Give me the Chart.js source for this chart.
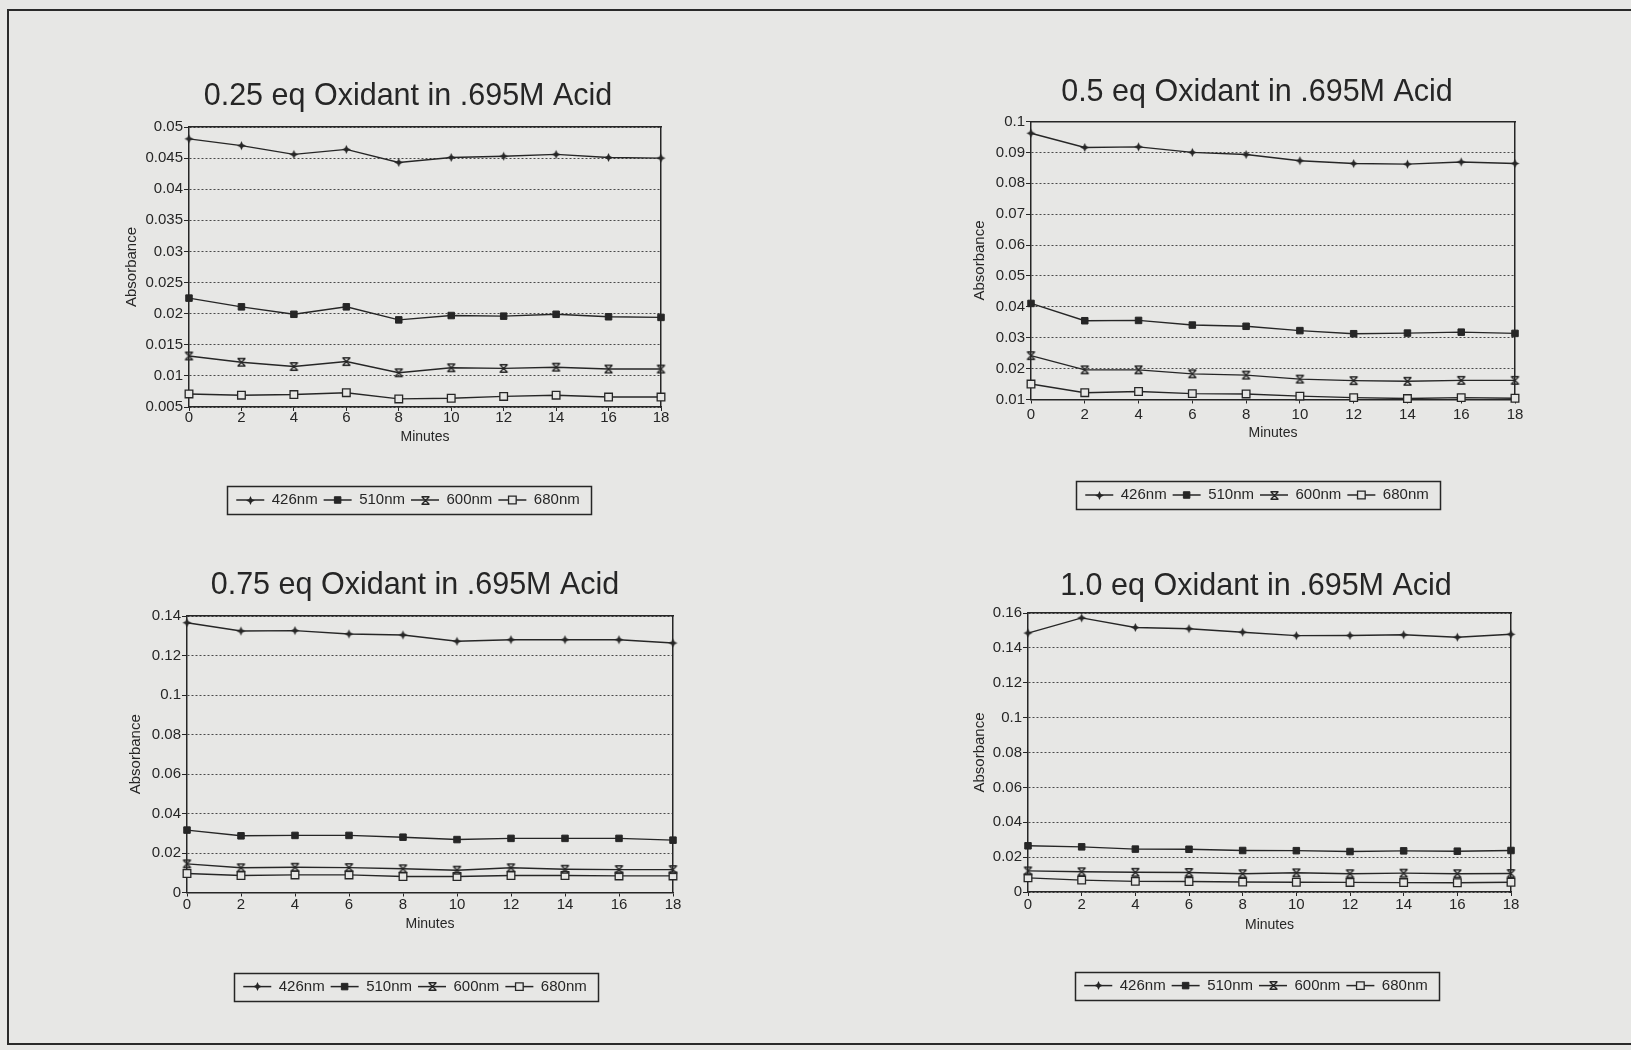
<!DOCTYPE html>
<html>
<head>
<meta charset="utf-8">
<script src="https://cdn.jsdelivr.net/npm/chart.js"></script>
<style>
html,body{margin:0;padding:0;width:1631px;height:1050px;overflow:hidden;background:#e7e7e5;}
#frame{position:absolute;left:7px;top:9px;width:1700px;height:1032px;border:2px solid #2a2a2a;border-right:none;}
canvas{position:absolute;}
</style>
</head>
<body>
<div id="frame"></div>
<canvas id="c1"></canvas>
<canvas id="c2"></canvas>
<canvas id="c3"></canvas>
<canvas id="c4"></canvas>
<script>
// ---------------- DATA ----------------
const minutes = [0, 2, 4, 6, 8, 10, 12, 14, 16, 18];
const seriesNames = ['426nm', '510nm', '600nm', '680nm'];
const chartTitles = [
  '0.25 eq Oxidant in .695M Acid',
  '0.5 eq Oxidant in .695M Acid',
  '0.75 eq Oxidant in .695M Acid',
  '1.0 eq Oxidant in .695M Acid'
];
const xTitle = 'Minutes';
const yTitle = 'Absorbance';

// 0.25 eq
const eq025_426 = [0.0481, 0.0470, 0.0456, 0.0464, 0.0443, 0.0451, 0.0453, 0.0456, 0.0451, 0.0450];
const eq025_510 = [0.0225, 0.0211, 0.0199, 0.0211, 0.0190, 0.0197, 0.0196, 0.0199, 0.0195, 0.0194];
const eq025_600 = [0.0132, 0.0122, 0.0115, 0.0123, 0.0105, 0.0113, 0.0112, 0.0114, 0.0111, 0.0111];
const eq025_680 = [0.0071, 0.0069, 0.0070, 0.0073, 0.0063, 0.0064, 0.0067, 0.0069, 0.0066, 0.0066];
// 0.5 eq
const eq05_426 = [0.0962, 0.0916, 0.0918, 0.0900, 0.0893, 0.0873, 0.0864, 0.0862, 0.0869, 0.0864];
const eq05_510 = [0.0411, 0.0355, 0.0356, 0.0341, 0.0337, 0.0323, 0.0313, 0.0315, 0.0318, 0.0314];
const eq05_600 = [0.0242, 0.0196, 0.0196, 0.0183, 0.0179, 0.0166, 0.0161, 0.0159, 0.0162, 0.0162];
const eq05_680 = [0.0150, 0.0122, 0.0126, 0.0119, 0.0118, 0.0111, 0.0106, 0.0103, 0.0106, 0.0104];
// 0.75 eq
const eq075_426 = [0.1366, 0.1324, 0.1326, 0.1309, 0.1304, 0.1272, 0.1280, 0.1280, 0.1280, 0.1263];
const eq075_510 = [0.0316, 0.0287, 0.0289, 0.0289, 0.0280, 0.0268, 0.0274, 0.0274, 0.0274, 0.0265];
const eq075_600 = [0.0145, 0.0125, 0.0128, 0.0126, 0.0120, 0.0113, 0.0125, 0.0118, 0.0116, 0.0116];
const eq075_680 = [0.0096, 0.0086, 0.0089, 0.0089, 0.0081, 0.0081, 0.0086, 0.0086, 0.0084, 0.0084];
// 1.0 eq
const eq10_426 = [0.1485, 0.1572, 0.1517, 0.1510, 0.1490, 0.1470, 0.1471, 0.1475, 0.1461, 0.1478];
const eq10_510 = [0.0265, 0.0259, 0.0246, 0.0245, 0.0238, 0.0237, 0.0232, 0.0236, 0.0234, 0.0238];
const eq10_600 = [0.0121, 0.0116, 0.0113, 0.0112, 0.0105, 0.0110, 0.0105, 0.0108, 0.0105, 0.0106];
const eq10_680 = [0.0081, 0.0068, 0.0061, 0.0060, 0.0057, 0.0056, 0.0055, 0.0054, 0.0053, 0.0056];

// tick values
const xTicks = [0, 2, 4, 6, 8, 10, 12, 14, 16, 18];
const yTicks025 = [0.005, 0.01, 0.015, 0.02, 0.025, 0.03, 0.035, 0.04, 0.045, 0.05];
const yTicks05 = [0.01, 0.02, 0.03, 0.04, 0.05, 0.06, 0.07, 0.08, 0.09, 0.1];
const yTicks075 = [0, 0.02, 0.04, 0.06, 0.08, 0.1, 0.12, 0.14];
const yTicks10 = [0, 0.02, 0.04, 0.06, 0.08, 0.1, 0.12, 0.14, 0.16];

// ---------------- STYLE ----------------
const INK = '#262626';
const GRID = '#4a4a4a';
const BG = '#e7e7e5';
const FONT = '"Liberation Sans", Arial, Helvetica, sans-serif';
const TITLE_SIZE = 30.5;
const LEG_FONT = 15;
const LEG_PAD = 6;
const LEG_BOX = 28;

function makeMarker(kind) {
  const c = document.createElement('canvas');
  c.width = 13; c.height = 13;
  const x = c.getContext('2d');
  x.strokeStyle = INK; x.fillStyle = INK; x.lineWidth = 1.4;
  if (kind === 'star4') {
    x.beginPath();
    x.moveTo(6.5, 2); x.lineTo(7.9, 5.1); x.lineTo(11, 6.5); x.lineTo(7.9, 7.9);
    x.lineTo(6.5, 11); x.lineTo(5.1, 7.9); x.lineTo(2, 6.5); x.lineTo(5.1, 5.1);
    x.closePath(); x.fill();
  } else if (kind === 'xbar') {
    x.beginPath();
    x.moveTo(3, 3); x.lineTo(10, 10);
    x.moveTo(10, 3); x.lineTo(3, 10);
    x.moveTo(2.5, 2.8); x.lineTo(10.5, 2.8);
    x.moveTo(2.5, 10.2); x.lineTo(10.5, 10.2);
    x.stroke();
  }
  return c;
}
const starImg = makeMarker('star4');
const xbarImg = makeMarker('xbar');

const seriesStyles = [
  {pointStyle: starImg, pointRadius: 4.5, pointBackgroundColor: INK, pointBorderColor: INK, pointBorderWidth: 1},
  {pointStyle: 'rect', pointRadius: 4.6, pointBackgroundColor: INK, pointBorderColor: INK, pointBorderWidth: 1},
  {pointStyle: xbarImg, pointRadius: 4.5, pointBackgroundColor: INK, pointBorderColor: INK, pointBorderWidth: 1},
  {pointStyle: 'rect', pointRadius: 5.4, pointBackgroundColor: BG, pointBorderColor: INK, pointBorderWidth: 1.3}
];

function drawLegendMarker(ctx, st, x, y) {
  if (typeof st.pointStyle === 'object') {
    ctx.drawImage(st.pointStyle, Math.round(x - 6.5), Math.round(y - 6.5));
    return;
  }
  const s = Math.SQRT1_2 * st.pointRadius;
  ctx.save();
  ctx.beginPath();
  ctx.rect(x - s, y - s, 2 * s, 2 * s);
  ctx.fillStyle = st.pointBackgroundColor;
  ctx.fill();
  ctx.lineWidth = st.pointBorderWidth;
  ctx.strokeStyle = st.pointBorderColor;
  ctx.stroke();
  ctx.restore();
}

const legendFramePlugin = {
  id: 'legendFrame',
  afterDraw(chart) {
    const lg = chart.legend;
    if (!lg || !lg.legendHitBoxes || !lg.legendHitBoxes.length) return;
    const ctx = chart.ctx;
    const hbs = lg.legendHitBoxes;
    hbs.forEach((hb, i) => {
      drawLegendMarker(ctx, seriesStyles[i], hb.left + LEG_BOX / 2, hb.top + hb.height / 2);
    });
    const first = hbs[0], last = hbs[hbs.length - 1];
    const cy = first.top + first.height / 2;
    const l = first.left - 9, r = last.left + last.width + 12;
    ctx.save();
    ctx.strokeStyle = INK;
    ctx.lineWidth = 1.5;
    ctx.strokeRect(Math.round(l) + 0.5, Math.round(cy - 14) + 0.5, Math.round(r - l), 28);
    ctx.restore();
  }
};

function makeChart(id, titleText, seriesData, yTicks, g) {
  const cv = document.getElementById(id);
  const top = Math.round(g.titleY - TITLE_SIZE * 0.6);
  const legendTop = g.legendY - LEG_PAD - LEG_FONT / 2;
  const legendBottom = legendTop + LEG_FONT + LEG_PAD + 10;
  const H = Math.ceil(legendBottom + 2 - top);
  const W = g.b - g.a;
  cv.style.left = g.a + 'px';
  cv.style.top = top + 'px';
  cv.width = W; cv.height = H;
  cv.style.width = W + 'px'; cv.style.height = H + 'px';

  const datasets = seriesData.map((vals, i) => Object.assign({
    label: seriesNames[i],
    data: minutes.map((m, j) => ({x: m, y: vals[j]})),
    borderColor: INK,
    borderWidth: 1.4,
    fill: false,
    tension: 0,
    clip: false
  }, seriesStyles[i]));

  return new Chart(cv, {
    type: 'line',
    data: {datasets},
    options: {
      responsive: false,
      animation: false,
      events: [],
      layout: {padding: {left: 0, right: 0, top: 0, bottom: top + H - legendBottom}},
      plugins: {
        title: {
          display: true, text: titleText, color: INK,
          font: {family: FONT, size: TITLE_SIZE, weight: 'normal', lineHeight: 1.2},
          padding: {top: 0, bottom: g.plotT - top - TITLE_SIZE * 1.2}
        },
        legend: {
          position: 'bottom',
          labels: {
            color: INK, font: {family: FONT, size: LEG_FONT},
            boxWidth: LEG_BOX, boxHeight: 1.5, padding: LEG_PAD,
            generateLabels: (chart) => chart.data.datasets.map((ds, i) => ({
              text: ds.label, fillStyle: INK, strokeStyle: INK, lineWidth: 0,
              hidden: false, datasetIndex: i, fontColor: INK
            }))
          }
        },
        tooltip: {enabled: false}
      },
      scales: {
        x: {
          type: 'linear', position: 'bottom', min: 0, max: 18,
          afterBuildTicks: (s) => { s.ticks = xTicks.map(v => ({value: v})); },
          ticks: {color: INK, font: {family: FONT, size: 15}, padding: g.tickOff - 4 - 9,
                  maxRotation: 0, autoSkip: false, callback: (v) => String(v)},
          grid: {display: true, drawOnChartArea: false, drawTicks: true, tickLength: 4, tickColor: INK, tickWidth: 1},
          border: {display: true, color: INK, width: 1.5},
          title: {display: true, text: xTitle, color: INK, font: {family: FONT, size: 14, lineHeight: 1.2},
                  padding: {top: 0, bottom: legendTop - g.minutesY - 8.4}},
          afterFit: (s) => { s.height = legendTop - g.plotB; }
        },
        xTop: {
          type: 'linear', position: 'top', min: 0, max: 18, display: true,
          ticks: {display: false}, grid: {display: false, drawTicks: false},
          border: {display: true, color: INK, width: 1.5},
          afterFit: (s) => { s.height = 0; }
        },
        y: {
          type: 'linear', position: 'left', min: yTicks[0], max: yTicks[yTicks.length - 1],
          afterBuildTicks: (s) => { s.ticks = yTicks.map(v => ({value: v})); },
          ticks: {color: INK, font: {family: FONT, size: 15}, padding: 1, callback: (v) => String(v)},
          grid: {display: true, drawOnChartArea: true, drawTicks: true, tickLength: 5,
                 color: GRID, lineWidth: 1, tickColor: INK, tickWidth: 1},
          border: {display: true, color: INK, width: 1.5, dash: [2, 2]},
          title: {display: true, text: yTitle, color: INK, font: {family: FONT, size: 15, lineHeight: 1.2},
                  padding: {top: g.absX - g.a - 9, bottom: 0}},
          afterFit: (s) => { s.width = g.plotL - g.a; }
        },
        yRight: {
          type: 'linear', position: 'right', min: 0, max: 1, display: true,
          ticks: {display: false}, grid: {display: false, drawTicks: false},
          border: {display: true, color: INK, width: 1.5},
          afterFit: (s) => { s.width = g.b - g.plotR; }
        }
      }
    },
    plugins: [legendFramePlugin]
  });
}

// ---------------- LAYOUT (page pixels) ----------------
const geo1 = {a: 110, b: 706, plotL: 189, plotR: 661, titleY: 96, plotT: 127, plotB: 407, minutesY: 437, absX: 132, legendY: 500, tickOff: 11};
const geo2 = {a: 951, b: 1563, plotL: 1031, plotR: 1515, titleY: 92.6, plotT: 121.5, plotB: 399.5, minutesY: 433, absX: 980, legendY: 495, tickOff: 15};
const geo3 = {a: 108, b: 722, plotL: 187, plotR: 673, titleY: 585.6, plotT: 616, plotB: 892.5, minutesY: 923.7, absX: 136, legendY: 986.6, tickOff: 12.5};
const geo4 = {a: 949, b: 1563, plotL: 1028, plotR: 1511, titleY: 586.7, plotT: 613, plotB: 892, minutesY: 924.7, absX: 980, legendY: 985.6, tickOff: 13};

makeChart('c1', chartTitles[0], [eq025_426, eq025_510, eq025_600, eq025_680], yTicks025, geo1);
makeChart('c2', chartTitles[1], [eq05_426, eq05_510, eq05_600, eq05_680], yTicks05, geo2);
makeChart('c3', chartTitles[2], [eq075_426, eq075_510, eq075_600, eq075_680], yTicks075, geo3);
makeChart('c4', chartTitles[3], [eq10_426, eq10_510, eq10_600, eq10_680], yTicks10, geo4);
</script>
</body>
</html>
